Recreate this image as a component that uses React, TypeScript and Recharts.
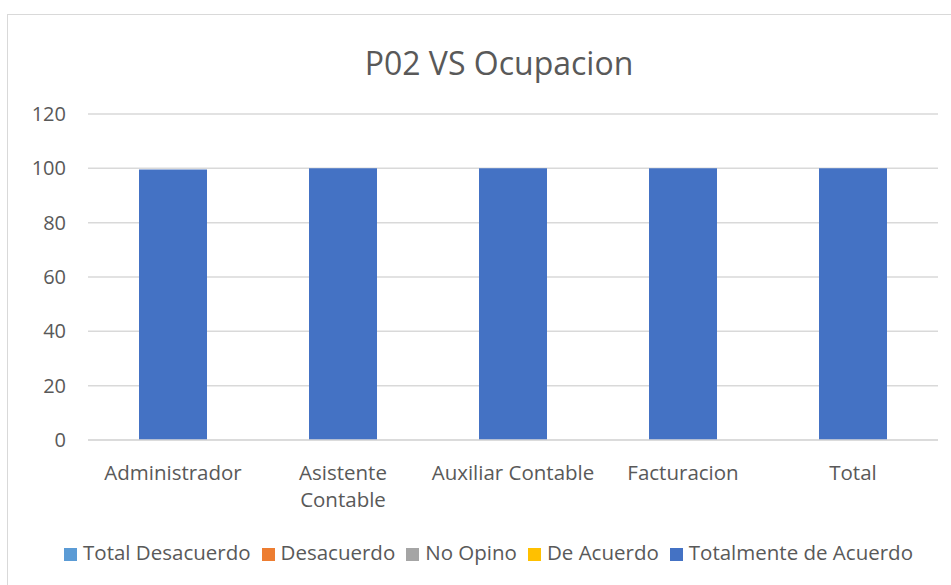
import { BarChart, Bar, XAxis, YAxis, CartesianGrid, Legend } from 'recharts';

const categories = ['Administrador', 'Asistente\nContable', 'Auxiliar Contable', 'Facturacion', 'Total'];
const totalDesacuerdo = [0, 0, 0, 0, 0];
const desacuerdo = [0, 0, 0, 0, 0];
const noOpino = [0, 0, 0, 0, 0];
const deAcuerdo = [0, 0, 0, 0, 0];
const totalmenteDeAcuerdo = [99.6, 100, 100, 100, 100];
const yTicks = [0, 20, 40, 60, 80, 100, 120];

const series = [
  { key: 'td', name: 'Total Desacuerdo', values: totalDesacuerdo, color: '#5B9BD5' },
  { key: 'd', name: 'Desacuerdo', values: desacuerdo, color: '#ED7D31' },
  { key: 'no', name: 'No Opino', values: noOpino, color: '#A5A5A5' },
  { key: 'da', name: 'De Acuerdo', values: deAcuerdo, color: '#FFC000' },
  { key: 'tda', name: 'Totalmente de Acuerdo', values: totalmenteDeAcuerdo, color: '#4472C4' },
];

const data = categories.map((cat, i) => {
  const row: Record<string, string | number> = { cat };
  series.forEach((s) => {
    row[s.key] = s.values[i];
  });
  return row;
});

const FONT = '"Open Sans", sans-serif';
const TEXT = '#595959';

// x labels may hold a line break, drawn as separate tspans
const CategoryTick = (props: any) => {
  const { x, y, payload } = props;
  const lines = String(payload.value).split('\n');
  return (
    <text x={x} y={y} textAnchor="middle" fill={TEXT} fontSize={20.5} fontFamily={FONT}>
      {lines.map((line, i) => (
        <tspan key={i} x={x} dy={i === 0 ? 32 : 27}>
          {line}
        </tspan>
      ))}
    </text>
  );
};

// keep legend in series order instead of alphabetical
const legendOrder = (item: any) => series.findIndex((s) => s.name === item.value);

const App = () => {
  return (
    <div style={{ position: 'absolute', top: 14, left: 7, width: 944, height: 571, overflow: 'hidden' }}>
      <div
        style={{
          position: 'relative',
          width: 982,
          height: 600,
          border: '1px solid #d9d9d9',
          background: '#fff',
        }}
      >
        <div
          style={{
            position: 'absolute',
            top: 26,
            left: 0,
            width: 982,
            textAlign: 'center',
            fontFamily: FONT,
            fontSize: 32,
            lineHeight: '44px',
            color: TEXT,
          }}
        >
          P02 VS Ocupacion
        </div>
        <BarChart
          width={982}
          height={575}
          data={data}
          margin={{ top: 99, right: 52, left: 20, bottom: 24 }}
          barSize={68}
        >
          <CartesianGrid vertical={false} stroke="#d9d9d9" strokeWidth={1.5} />
          <XAxis
            dataKey="cat"
            height={98}
            interval={0}
            tickLine={false}
            axisLine={{ stroke: '#d9d9d9', strokeWidth: 1.5 }}
            tick={<CategoryTick />}
          />
          <YAxis
            width={60}
            domain={[0, 120]}
            ticks={yTicks}
            axisLine={false}
            tickLine={false}
            tickMargin={16}
            tick={{ fill: TEXT, fontSize: 20, fontFamily: FONT }}
          />
          <Legend
            verticalAlign="bottom"
            iconType="square"
            iconSize={13}
            itemSorter={legendOrder}
            wrapperStyle={{ left: 0, width: 972, fontFamily: FONT, fontSize: 20.5 }}
            formatter={(value) => (
              <span style={{ color: TEXT, marginLeft: 2, marginRight: 1 }}>{value}</span>
            )}
          />
          {series.map((s) => (
            <Bar
              key={s.key}
              dataKey={s.key}
              name={s.name}
              stackId="a"
              fill={s.color}
              isAnimationActive={false}
            />
          ))}
        </BarChart>
      </div>
    </div>
  );
};

export default App;
